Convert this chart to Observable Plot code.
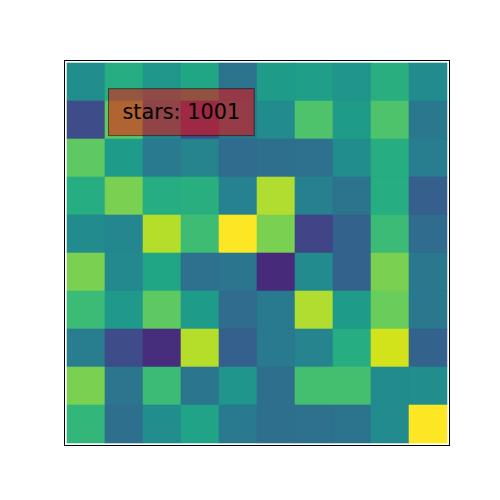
<!DOCTYPE html>
<html>
<head>
<meta charset="utf-8">
<script src="https://cdn.jsdelivr.net/npm/d3@7"></script>
<script src="https://cdn.jsdelivr.net/npm/@observablehq/plot@0.6"></script>
<style>
  html, body { margin: 0; padding: 0; background: #fff; }
  #chart { width: 500px; height: 500px; }
</style>
</head>
<body>
<div id="chart"></div>
<script>
// Grid values (rows top to bottom, columns left to right), read on a 0..1 viridis scale
const row0 = [0.49, 0.62, 0.53, 0.59, 0.38, 0.55, 0.56, 0.52, 0.63, 0.48];
const row1 = [0.23, 0.75, 0.47, 0.25, 0.40, 0.48, 0.72, 0.55, 0.72, 0.40];
const row2 = [0.75, 0.55, 0.41, 0.45, 0.35, 0.36, 0.37, 0.49, 0.62, 0.42];
const row3 = [0.62, 0.80, 0.62, 0.63, 0.44, 0.88, 0.43, 0.38, 0.62, 0.30];
const row4 = [0.48, 0.46, 0.89, 0.69, 1.00, 0.80, 0.20, 0.31, 0.68, 0.35];
const row5 = [0.80, 0.47, 0.59, 0.37, 0.39, 0.12, 0.48, 0.31, 0.80, 0.40];
const row6 = [0.68, 0.54, 0.75, 0.55, 0.35, 0.41, 0.88, 0.55, 0.77, 0.40];
const row7 = [0.42, 0.23, 0.13, 0.89, 0.30, 0.41, 0.45, 0.62, 0.93, 0.31];
const row8 = [0.80, 0.39, 0.68, 0.39, 0.52, 0.36, 0.70, 0.70, 0.48, 0.49];
const row9 = [0.66, 0.36, 0.49, 0.58, 0.41, 0.36, 0.37, 0.38, 0.48, 1.00];
const rows = [row0, row1, row2, row3, row4, row5, row6, row7, row8, row9];
const annotation = ["stars: 1001"];

const cells = rows.flatMap((r, i) => r.map((v, j) => ({row: i, col: j, value: v})));

const plot = Plot.plot({
  width: 500,
  height: 500,
  marginLeft: 64,
  marginRight: 51,
  marginTop: 60,
  marginBottom: 55,
  style: {background: "#fff", fontFamily: "DejaVu Sans"},
  x: {domain: d3.range(10), padding: 0, axis: null},
  y: {domain: d3.range(10), padding: 0, axis: null},
  color: {type: "linear", scheme: "viridis", domain: [0, 1]},
  marks: [
    Plot.cell(cells, {x: "col", y: "row", fill: "value", stroke: "value", strokeWidth: 0.6, inset: 0}),
    Plot.frame({stroke: "black", strokeWidth: 1}),
    Plot.text(annotation, {
      text: d => d,
      frameAnchor: "top-left",
      textAnchor: "start",
      lineAnchor: "middle",
      dx: 58,
      dy: 52,
      fontSize: 20.8,
      fill: "black",
      className: "anno"
    })
  ]
});

document.getElementById("chart").appendChild(plot);

// Add the translucent red box behind the annotation text, sized from the rendered text
const textEl = plot.querySelector(".anno text") || plot.querySelector("g[aria-label='text'] text");
if (textEl) {
  const sb = plot.getBoundingClientRect();
  const tb = textEl.getBoundingClientRect();
  const padX = 14;
  const boxH = 47;
  const cy = tb.top - sb.top + tb.height / 2;
  const ns = "http://www.w3.org/2000/svg";
  const rect = document.createElementNS(ns, "rect");
  rect.setAttribute("x", tb.left - sb.left - padX);
  rect.setAttribute("y", cy - boxH / 2);
  rect.setAttribute("width", tb.width + 2 * padX);
  rect.setAttribute("height", boxH);
  rect.setAttribute("fill", "red");
  rect.setAttribute("fill-opacity", 0.5);
  rect.setAttribute("stroke", "black");
  rect.setAttribute("stroke-opacity", 0.5);
  rect.setAttribute("stroke-width", 1);
  const g = textEl.closest("g[aria-label='text']") || textEl.parentNode;
  g.parentNode.insertBefore(rect, g);
}
</script>
</body>
</html>
